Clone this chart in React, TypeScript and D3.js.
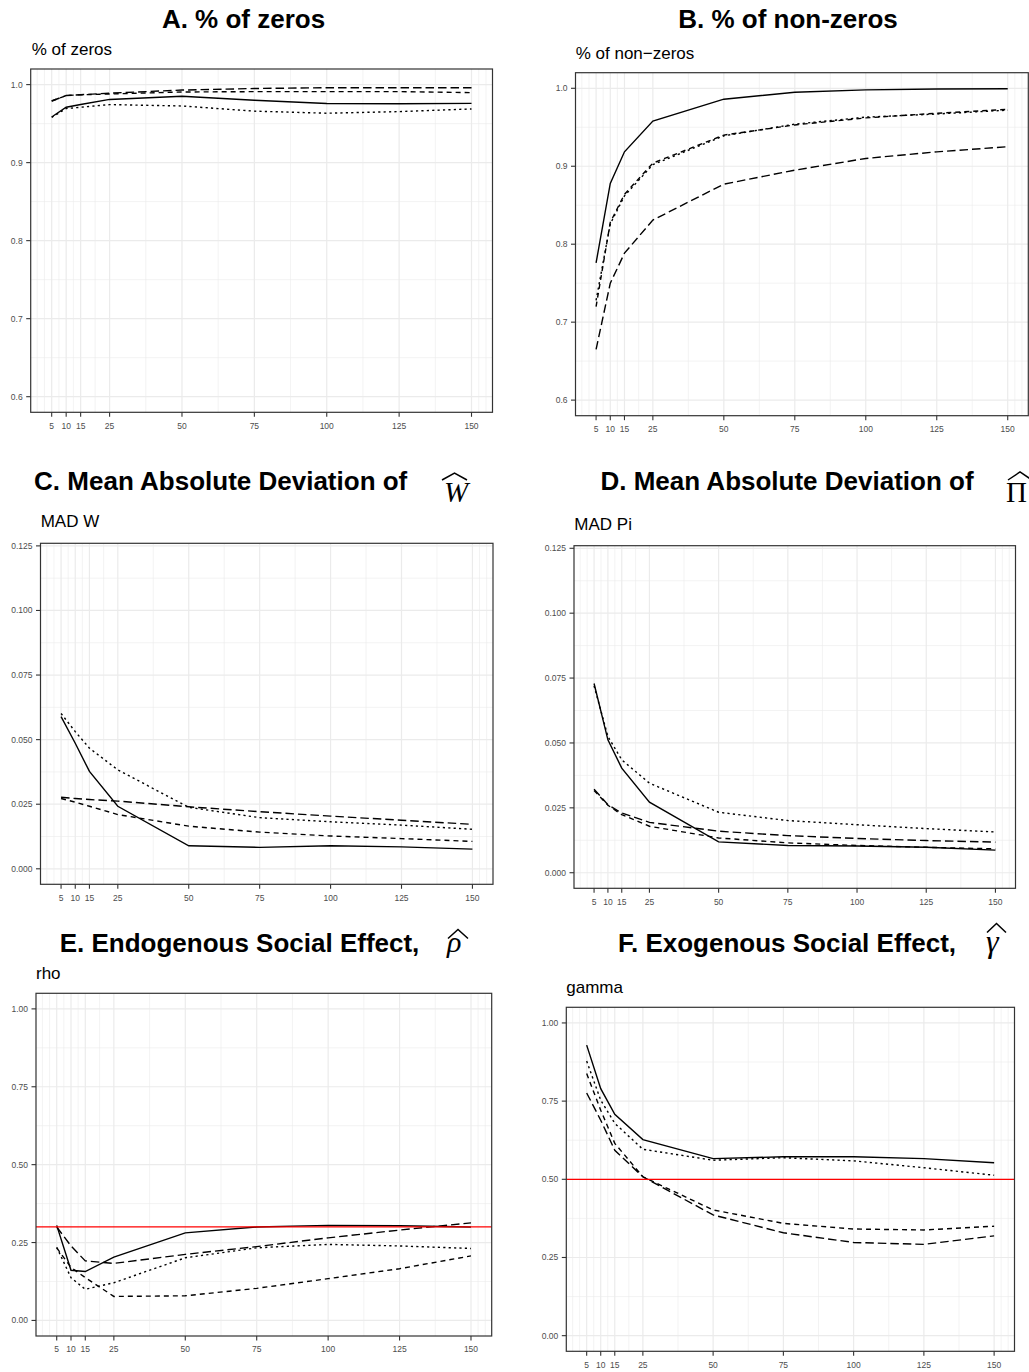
import React from "react";
import * as d3 from "d3";

// ---------------- data ----------------
const sampleSizes = [5, 10, 15, 25, 50, 75, 100, 125, 150];
const xTickLabels = ["5", "10", "15", "25", "50", "75", "100", "125", "150"];
const xMinorBreaks = [0, 2.5, 7.5, 12.5, 20, 37.5, 62.5, 87.5, 112.5, 137.5, 152.5, 155];

// A. % of zeros
const zerosSolid = [0.9585, 0.971, 0.9745, 0.981, 0.985, 0.98, 0.9757, 0.9755, 0.976];
const zerosDotted = [0.958, 0.9693, 0.971, 0.9744, 0.9726, 0.966, 0.9633, 0.9654, 0.9688];
const zerosDashed = [0.979, 0.986, 0.987, 0.988, 0.9905, 0.991, 0.991, 0.991, 0.9897];
const zerosLongdash = [0.979, 0.986, 0.987, 0.989, 0.993, 0.995, 0.996, 0.996, 0.996];

// B. % of non-zeros
const nonzerosSolid = [0.776, 0.878, 0.9185, 0.958, 0.986, 0.995, 0.998, 0.999, 0.9995];
const nonzerosDotted = [0.728, 0.826, 0.862, 0.902, 0.939, 0.954, 0.963, 0.967, 0.972];
const nonzerosDashed = [0.72, 0.828, 0.864, 0.904, 0.94, 0.953, 0.962, 0.968, 0.973];
const nonzerosLongdash = [0.665, 0.75, 0.7885, 0.831, 0.877, 0.895, 0.91, 0.9185, 0.925];

// C. MAD W
const madWSolid = [0.0589, 0.0486, 0.0377, 0.0242, 0.0089, 0.0083, 0.0089, 0.0085, 0.0076];
const madWDotted = [0.0601, 0.0531, 0.0467, 0.0383, 0.0238, 0.0198, 0.0182, 0.0169, 0.0153];
const madWDashed = [0.0272, 0.0258, 0.0242, 0.021, 0.0165, 0.0142, 0.0127, 0.0117, 0.0106];
const madWLongdash = [0.0277, 0.0272, 0.0268, 0.0262, 0.024, 0.0221, 0.0204, 0.0188, 0.0172];

// D. MAD Pi
const madPiSolid = [0.0729, 0.0512, 0.0403, 0.0272, 0.0119, 0.0105, 0.0103, 0.0098, 0.0087];
const madPiDotted = [0.072, 0.0525, 0.0435, 0.0345, 0.0233, 0.0201, 0.0185, 0.017, 0.0157];
const madPiDashed = [0.0317, 0.026, 0.0224, 0.0179, 0.0134, 0.0115, 0.0105, 0.0098, 0.0092];
const madPiLongdash = [0.0322, 0.0262, 0.023, 0.0194, 0.016, 0.0143, 0.0132, 0.0124, 0.0118];

// E. rho
const rhoSolid = [0.305, 0.161, 0.157, 0.203, 0.281, 0.3, 0.305, 0.304, 0.3];
const rhoDotted = [0.235, 0.137, 0.1, 0.121, 0.201, 0.233, 0.244, 0.239, 0.231];
const rhoDashed = [0.233, 0.17, 0.1375, 0.077, 0.079, 0.103, 0.134, 0.166, 0.207];
const rhoLongdash = [0.3, 0.239, 0.191, 0.183, 0.212, 0.237, 0.265, 0.29, 0.313];
const rhoTrue = 0.3;

// F. gamma
const gammaSolid = [0.929, 0.79, 0.708, 0.627, 0.566, 0.572, 0.572, 0.566, 0.553];
const gammaDotted = [0.878, 0.753, 0.679, 0.596, 0.561, 0.569, 0.559, 0.537, 0.513];
const gammaDashed = [0.838, 0.721, 0.615, 0.508, 0.402, 0.359, 0.341, 0.338, 0.35];
const gammaLongdash = [0.776, 0.689, 0.593, 0.508, 0.386, 0.329, 0.298, 0.292, 0.319];
const gammaTrue = 0.5;

// y ticks
const pctTicks = [0.6, 0.7, 0.8, 0.9, 1.0];
const pctTickLabels = ["0.6", "0.7", "0.8", "0.9", "1.0"];
const pctMinor = [0.65, 0.75, 0.85, 0.95];
const madTicks = [0, 0.025, 0.05, 0.075, 0.1, 0.125];
const madTickLabels = ["0.000", "0.025", "0.050", "0.075", "0.100", "0.125"];
const madMinor = [0.0125, 0.0375, 0.0625, 0.0875, 0.1125];
const effTicks = [0, 0.25, 0.5, 0.75, 1.0];
const effTickLabels = ["0.00", "0.25", "0.50", "0.75", "1.00"];
const effMinor = [0.125, 0.375, 0.625, 0.875];

// ---------------- styles ----------------
const DASH: Record<string, string> = {
  solid: "",
  dotted: "2.2,3.2",
  dashed: "5,4",
  longdash: "8.5,4",
};
const SANS = "'Liberation Sans', Arial, Helvetica, sans-serif";
const SERIF = "'Liberation Serif', 'Times New Roman', serif";

type Series = { type: string; values: number[] };

type PanelProps = {
  left: number;
  right: number;
  top: number;
  bottom: number;
  yDomain: [number, number];
  yTicks: number[];
  yTickLabels: string[];
  yMinor: number[];
  series: Series[];
  refLine?: number;
  ylab: string;
  ylabX: number;
  ylabY: number;
};

function Panel(p: PanelProps) {
  const x = d3.scaleLinear().domain([-2.25, 157.25]).range([p.left, p.right]);
  const y = d3.scaleLinear().domain(p.yDomain).range([p.bottom, p.top]);
  const line = d3
    .line<number>()
    .x((_, i) => x(sampleSizes[i]))
    .y((d) => y(d));
  const grid = "#EBEBEB";
  return (
    <g>
      <text x={p.ylabX} y={p.ylabY} fontFamily={SANS} fontSize={17} fill="#000">
        {p.ylab}
      </text>
      <rect x={p.left} y={p.top} width={p.right - p.left} height={p.bottom - p.top} fill="#fff" />
      {p.yMinor.map((v) => (
        <line key={"ym" + v} x1={p.left} x2={p.right} y1={y(v)} y2={y(v)} stroke={grid} strokeWidth={0.6} />
      ))}
      {xMinorBreaks.map((v) => (
        <line key={"xm" + v} x1={x(v)} x2={x(v)} y1={p.top} y2={p.bottom} stroke={grid} strokeWidth={0.6} />
      ))}
      {p.yTicks.map((v) => (
        <line key={"yg" + v} x1={p.left} x2={p.right} y1={y(v)} y2={y(v)} stroke={grid} strokeWidth={1.2} />
      ))}
      {sampleSizes.map((v) => (
        <line key={"xg" + v} x1={x(v)} x2={x(v)} y1={p.top} y2={p.bottom} stroke={grid} strokeWidth={1.2} />
      ))}
      {p.series.map((s, i) => (
        <path
          key={"s" + i}
          d={line(s.values) || ""}
          fill="none"
          stroke="#000"
          strokeWidth={1.4}
          strokeDasharray={DASH[s.type] || undefined}
        />
      ))}
      {p.refLine !== undefined && (
        <line x1={p.left} x2={p.right} y1={y(p.refLine)} y2={y(p.refLine)} stroke="#FF0000" strokeWidth={1.3} />
      )}
      <rect
        x={p.left}
        y={p.top}
        width={p.right - p.left}
        height={p.bottom - p.top}
        fill="none"
        stroke="#333333"
        strokeWidth={1.2}
      />
      {p.yTicks.map((v, i) => (
        <g key={"yt" + v}>
          <line x1={p.left - 4.5} x2={p.left} y1={y(v)} y2={y(v)} stroke="#333333" strokeWidth={1.1} />
          <text
            x={p.left - 8}
            y={y(v) + 3}
            textAnchor="end"
            fontFamily={SANS}
            fontSize={8.5}
            fill="#4D4D4D"
          >
            {p.yTickLabels[i]}
          </text>
        </g>
      ))}
      {sampleSizes.map((v, i) => (
        <g key={"xt" + v}>
          <line x1={x(v)} x2={x(v)} y1={p.bottom} y2={p.bottom + 4.5} stroke="#333333" strokeWidth={1.1} />
          <text
            x={x(v)}
            y={p.bottom + 16.3}
            textAnchor="middle"
            fontFamily={SANS}
            fontSize={8.5}
            fill="#4D4D4D"
          >
            {xTickLabels[i]}
          </text>
        </g>
      ))}
    </g>
  );
}

function Hat({ x0, x1, top, h }: { x0: number; x1: number; top: number; h: number }) {
  const cx = (x0 + x1) / 2;
  return (
    <path
      d={`M${x0},${top + h} L${cx},${top} L${x1},${top + h}`}
      fill="none"
      stroke="#000"
      strokeWidth={1.5}
    />
  );
}

function Title({ text, cx, y }: { text: string; cx: number; y: number }) {
  return (
    <text x={cx} y={y} textAnchor="middle" fontFamily={SANS} fontWeight="bold" fontSize={26} fill="#000">
      {text}
    </text>
  );
}

export default function App() {
  const mk = (a: number[], b: number[], c: number[], d: number[]): Series[] => [
    { type: "solid", values: a },
    { type: "dotted", values: b },
    { type: "dashed", values: c },
    { type: "longdash", values: d },
  ];
  return (
    <div style={{ position: "absolute", left: 0, top: 0 }}>
      <svg width={1029} height={1372} style={{ display: "block", background: "#fff" }}>
        <rect x={0} y={0} width={1029} height={1372} fill="#fff" />

        {/* A */}
        <Title text="A. % of zeros" cx={243.5} y={28} />
        <Panel
          left={30.7}
          right={492.5}
          top={69}
          bottom={412.3}
          yDomain={[0.58, 1.02]}
          yTicks={pctTicks}
          yTickLabels={pctTickLabels}
          yMinor={pctMinor}
          series={mk(zerosSolid, zerosDotted, zerosDashed, zerosLongdash)}
          ylab="% of zeros"
          ylabX={31.7}
          ylabY={55}
        />

        {/* B */}
        <Title text="B. % of non-zeros" cx={788} y={27.5} />
        <Panel
          left={575.5}
          right={1028.3}
          top={72.7}
          bottom={415.7}
          yDomain={[0.58, 1.02]}
          yTicks={pctTicks}
          yTickLabels={pctTickLabels}
          yMinor={pctMinor}
          series={mk(nonzerosSolid, nonzerosDotted, nonzerosDashed, nonzerosLongdash)}
          ylab={"% of non\u2212zeros"}
          ylabX={575.7}
          ylabY={59.3}
        />

        {/* C */}
        <Title text="C. Mean Absolute Deviation of" cx={220.7} y={490} />
        <Hat x0={442} x1={467} top={473} h={7} />
        <text x={444} y={502} fontFamily={SERIF} fontStyle="italic" fontSize={29} fill="#000">
          W
        </text>
        <Panel
          left={40.5}
          right={493}
          top={543.3}
          bottom={884.3}
          yDomain={[-0.006, 0.126]}
          yTicks={madTicks}
          yTickLabels={madTickLabels}
          yMinor={madMinor}
          series={mk(madWSolid, madWDotted, madWDashed, madWLongdash)}
          ylab="MAD W"
          ylabX={40.7}
          ylabY={527.3}
        />

        {/* D */}
        <Title text="D. Mean Absolute Deviation of" cx={787} y={490} />
        <Hat x0={1008} x1={1032} top={472} h={8} />
        <text x={1006} y={501.7} fontFamily={SERIF} fontSize={29} fill="#000">
          {"\u03A0"}
        </text>
        <Panel
          left={574}
          right={1015.5}
          top={545.7}
          bottom={888.3}
          yDomain={[-0.006, 0.126]}
          yTicks={madTicks}
          yTickLabels={madTickLabels}
          yMinor={madMinor}
          series={mk(madPiSolid, madPiDotted, madPiDashed, madPiLongdash)}
          ylab="MAD Pi"
          ylabX={574.3}
          ylabY={530}
        />

        {/* E */}
        <Title text="E. Endogenous Social Effect," cx={239.5} y={952} />
        <Hat x0={448} x1={468} top={929.5} h={9} />
        <text x={447} y={951.5} fontFamily={SERIF} fontStyle="italic" fontSize={30} fill="#000">
          {"\u03C1"}
        </text>
        <Panel
          left={36}
          right={491.7}
          top={993.3}
          bottom={1336}
          yDomain={[-0.05, 1.05]}
          yTicks={effTicks}
          yTickLabels={effTickLabels}
          yMinor={effMinor}
          series={mk(rhoSolid, rhoDotted, rhoDashed, rhoLongdash)}
          refLine={rhoTrue}
          ylab="rho"
          ylabX={36}
          ylabY={979}
        />

        {/* F */}
        <Title text="F. Exogenous Social Effect," cx={787} y={952} />
        <Hat x0={987} x1={1006} top={923.5} h={9} />
        <text x={986} y={952} fontFamily={SERIF} fontStyle="italic" fontSize={32} fill="#000">
          {"\u03B3"}
        </text>
        <Panel
          left={566.3}
          right={1014.5}
          top={1007.3}
          bottom={1351.3}
          yDomain={[-0.05, 1.05]}
          yTicks={effTicks}
          yTickLabels={effTickLabels}
          yMinor={effMinor}
          series={mk(gammaSolid, gammaDotted, gammaDashed, gammaLongdash)}
          refLine={gammaTrue}
          ylab="gamma"
          ylabX={566.3}
          ylabY={993.3}
        />
      </svg>
    </div>
  );
}
